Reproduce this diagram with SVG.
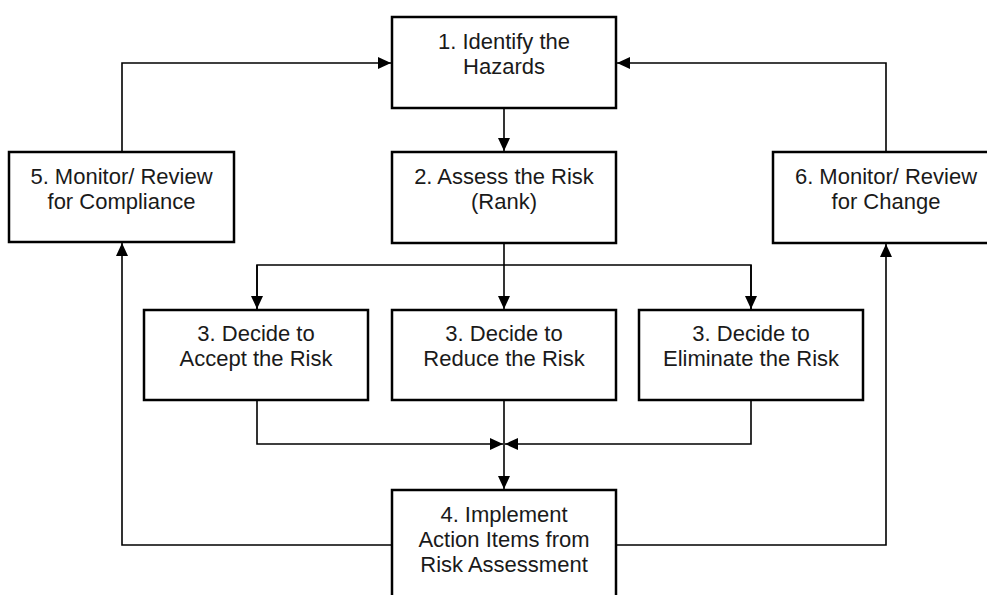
<svg xmlns="http://www.w3.org/2000/svg" width="987" height="595" viewBox="0 0 987 595">
<style>
.box{fill:#fff;stroke:#000;stroke-width:2.5}
.lbl{font-family:"Liberation Sans",Arial,sans-serif;font-size:22px;fill:#1a1a1a;text-anchor:middle}
.con{fill:none;stroke:#000;stroke-width:1.6}
</style>
<defs>
<marker id="ah" markerUnits="userSpaceOnUse" markerWidth="14" markerHeight="14" viewBox="0 0 14 14" refX="13" refY="7" orient="auto">
<path d="M0,1 L13,7 L0,13 Z" fill="#000"/>
</marker>
</defs>
<rect width="987" height="595" fill="#fff"/>
<g id="connectors">
<path class="con" d="M504,108 V151" marker-end="url(#ah)"/>
<path class="con" d="M504,243 V309" marker-end="url(#ah)"/>
<path class="con" d="M257,309 V265 H751 V309" />
<path class="con" d="M257,265 V309" marker-end="url(#ah)"/>
<path class="con" d="M751,265 V309" marker-end="url(#ah)"/>
<path class="con" d="M257,400 V444 H503" marker-end="url(#ah)"/>
<path class="con" d="M751,400 V444 H505" marker-end="url(#ah)"/>
<path class="con" d="M504,400 V489" marker-end="url(#ah)"/>
<path class="con" d="M392,545 H122 V243" marker-end="url(#ah)"/>
<path class="con" d="M616,545 H886 V244" marker-end="url(#ah)"/>
<path class="con" d="M122,152 V63 H391" marker-end="url(#ah)"/>
<path class="con" d="M886,152 V63 H617" marker-end="url(#ah)"/>
</g>
<g id="n1">
<rect class="box" x="392" y="17" width="224" height="91"/>
<text class="lbl" x="504" y="49">1. Identify the</text>
<text class="lbl" x="504" y="74">Hazards</text>
</g>
<g id="n2">
<rect class="box" x="392" y="152" width="224" height="91"/>
<text class="lbl" x="504" y="184">2. Assess the Risk</text>
<text class="lbl" x="504" y="209">(Rank)</text>
</g>
<g id="n5">
<rect class="box" x="9" y="152" width="225" height="90"/>
<text class="lbl" x="121.5" y="184">5. Monitor/ Review</text>
<text class="lbl" x="121.5" y="209">for Compliance</text>
</g>
<g id="n6">
<rect class="box" x="773" y="152" width="226" height="91"/>
<text class="lbl" x="886" y="184">6. Monitor/ Review</text>
<text class="lbl" x="886" y="209">for Change</text>
</g>
<g id="n3a">
<rect class="box" x="144" y="310" width="224" height="90"/>
<text class="lbl" x="256" y="341">3. Decide to</text>
<text class="lbl" x="256" y="366">Accept the Risk</text>
</g>
<g id="n3b">
<rect class="box" x="392" y="310" width="224" height="90"/>
<text class="lbl" x="504" y="341">3. Decide to</text>
<text class="lbl" x="504" y="366">Reduce the Risk</text>
</g>
<g id="n3c">
<rect class="box" x="639" y="310" width="224" height="90"/>
<text class="lbl" x="751" y="341">3. Decide to</text>
<text class="lbl" x="751" y="366">Eliminate the Risk</text>
</g>
<g id="n4">
<rect class="box" x="392" y="490" width="224" height="120"/>
<text class="lbl" x="504" y="522">4. Implement</text>
<text class="lbl" x="504" y="547">Action Items from</text>
<text class="lbl" x="504" y="572">Risk Assessment</text>
</g>
</svg>
